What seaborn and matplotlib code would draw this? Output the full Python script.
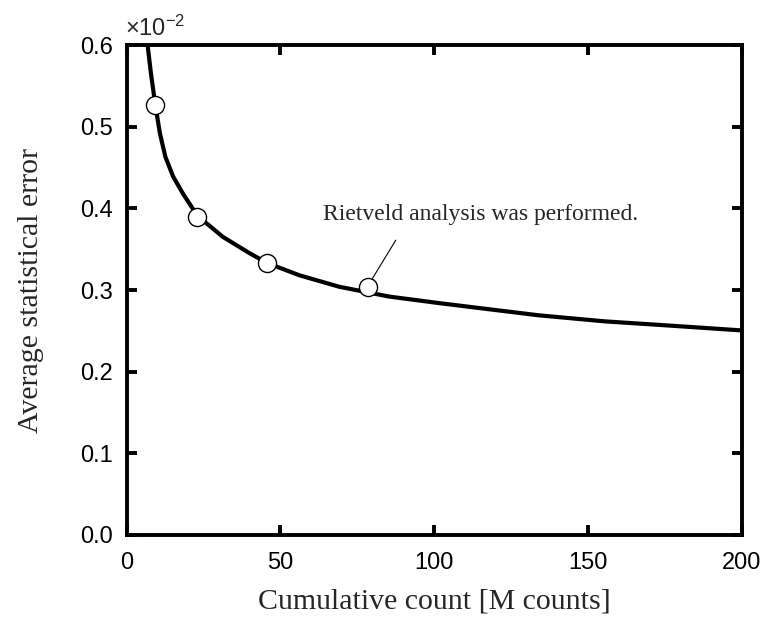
import numpy as np
import pandas as pd
import matplotlib
matplotlib.use("Agg")
import matplotlib.pyplot as plt
import seaborn as sns

# fitted curve (values in units of 1e-2)
curve_x = [6.8, 7.9, 9.3, 10.8, 12.6, 15.1, 18.3, 23.0, 31.3, 40.0, 45.7, 56.2,
           69.1, 85.3, 101.5, 117.7, 134.0, 155.5, 177.1, 200.0]
curve_y = [0.600, 0.565, 0.527, 0.492, 0.463, 0.439, 0.418, 0.391, 0.365, 0.345,
           0.333, 0.318, 0.304, 0.292, 0.284, 0.2765, 0.269, 0.2616, 0.2563, 0.2505]

# measured points (Rietveld analysis)
point_x = [9.3, 23.0, 45.7, 78.5]
point_y = [0.526, 0.390, 0.333, 0.304]

xticks = [0, 50, 100, 150, 200]
yticks = [0.0, 0.1, 0.2, 0.3, 0.4, 0.5, 0.6]

note = "Rietveld analysis was performed."
note_pos = (63.7, 0.386)
leader_from = (87.5, 0.361)
leader_to = (79.9, 0.314)

sns.set_theme(style="ticks")
plt.rcParams["font.family"] = ["Liberation Sans", "DejaVu Sans"]
plt.rcParams["mathtext.fontset"] = "custom"
plt.rcParams["mathtext.rm"] = "Liberation Sans"
plt.rcParams["mathtext.it"] = "Liberation Sans"

curve = pd.DataFrame({"x": curve_x, "y": curve_y})
pts = pd.DataFrame({"x": point_x, "y": point_y})

fig = plt.figure(figsize=(7.64, 6.21), dpi=100)
ax = fig.add_axes([0.1658, 0.1385, 0.805, 0.789])

sns.lineplot(data=curve, x="x", y="y", ax=ax, color="black", lw=3.0, sort=False)
sns.scatterplot(data=pts, x="x", y="y", ax=ax, s=170, color="white",
                edgecolor="black", linewidth=1.0, zorder=5)

ax.set_xlim(0, 200)
ax.set_ylim(0, 0.6)
ax.set_xticks(xticks)
ax.set_yticks(yticks)
ax.set_xticklabels([str(t) for t in xticks])
ax.set_yticklabels([f"{t:.1f}" for t in yticks])

for s in ax.spines.values():
    s.set_visible(True)
    s.set_linewidth(2.8)
    s.set_color("black")
ax.tick_params(direction="in", length=7.5, width=2.8, top=True, right=True,
               labelsize=17, colors="black")
ax.tick_params(axis="x", pad=12)
ax.tick_params(axis="y", pad=10)
ax.tick_params(labeltop=False, labelright=False)

ax.set_xlabel("Cumulative count [M counts]", fontsize=21.5, family="Liberation Serif",
              labelpad=11)
ax.set_ylabel("Average statistical error", fontsize=21.5, family="Liberation Serif",
              labelpad=26)

ax.text(note_pos[0], note_pos[1], note, fontsize=17, family="Liberation Serif",
        ha="left", va="baseline")
ax.annotate("", xy=leader_to, xytext=leader_from,
            arrowprops=dict(arrowstyle="-", lw=0.8, color="black",
                            shrinkA=0, shrinkB=0))

fig.text(125.0 / 764, 1 - 36.0 / 621, r"×10$^{-2}$", fontsize=17,
         ha="left", va="baseline")

fig.savefig("out.png", dpi=100)
